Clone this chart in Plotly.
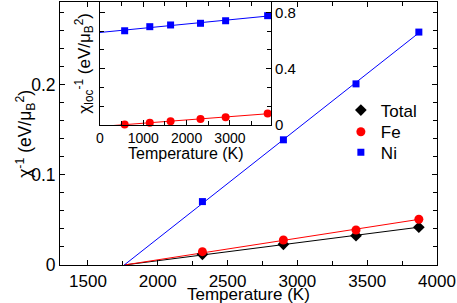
import numpy as np
import plotly.graph_objects as go

# ---- data (main panel) ----
T_main = [2320, 2900, 3420, 3870]
chi_total = [0.0119, 0.0230, 0.0326, 0.0419]
chi_fe = [0.0148, 0.0278, 0.0389, 0.0508]
chi_ni = [0.0704, 0.139, 0.2011, 0.2586]
Tc = 1760

# ---- data (inset) ----
T_loc = [570, 1150, 1630, 2320, 2900, 3870]
chi_loc_ni = [0.669, 0.698, 0.710, 0.722, 0.740, 0.776]
chi_loc_fe = [0.005, 0.016, 0.028, 0.043, 0.055, 0.083]

FONT = "Liberation Sans, Arial, sans-serif"
BLUE = "#0000ff"
RED = "#ff0000"
BLACK = "#000000"


def fit_through_tc(T, y, tc):
    t = np.array(T, float) - tc
    yy = np.array(y, float)
    s = (t * yy).sum() / (t * t).sum()
    xs = [tc, max(T)]
    return xs, [0.0, s * (max(T) - tc)]


def linfit(T, y, x0):
    p = np.polyfit(np.array(T, float), np.array(y, float), 1)
    xs = [x0, max(T)]
    return xs, [p[0] * x + p[1] for x in xs]


fig = go.Figure()

# main fit lines
for y, c in [(chi_total, BLACK), (chi_fe, RED), (chi_ni, BLUE)]:
    xs, ys = fit_through_tc(T_main, y, Tc)
    fig.add_trace(go.Scatter(x=xs, y=ys, mode="lines", line=dict(color=c, width=1),
                             showlegend=False, hoverinfo="skip"))

# main markers
fig.add_trace(go.Scatter(x=T_main, y=chi_total, mode="markers", name="Total", legend="legend",
                         marker=dict(symbol="diamond", size=9, color=BLACK), cliponaxis=False))
fig.add_trace(go.Scatter(x=T_main, y=chi_fe, mode="markers", name="Fe", legend="legend2",
                         marker=dict(symbol="circle", size=9, color=RED), cliponaxis=False))
fig.add_trace(go.Scatter(x=T_main, y=chi_ni, mode="markers", name="Ni", legend="legend3",
                         marker=dict(symbol="square", size=7, color=BLUE), cliponaxis=False))

# inset fit lines
for y, c in [(chi_loc_fe, RED), (chi_loc_ni, BLUE)]:
    xs, ys = linfit(T_loc, y, 0)
    fig.add_trace(go.Scatter(x=xs, y=ys, mode="lines", line=dict(color=c, width=1),
                             xaxis="x2", yaxis="y2", showlegend=False, hoverinfo="skip"))

fig.add_trace(go.Scatter(x=T_loc, y=chi_loc_fe, mode="markers", xaxis="x2", yaxis="y2",
                         marker=dict(symbol="circle", size=8, color=RED),
                         showlegend=False, cliponaxis=False))
fig.add_trace(go.Scatter(x=T_loc, y=chi_loc_ni, mode="markers", xaxis="x2", yaxis="y2",
                         marker=dict(symbol="square", size=7, color=BLUE),
                         showlegend=False, cliponaxis=False))

axis_common = dict(showline=True, linecolor=BLACK, linewidth=1, mirror="allticks",
                   ticks="inside", tickcolor=BLACK, ticklen=5, showgrid=False, zeroline=False)

leg_common = dict(x=0.745, xanchor="left", yanchor="top", bgcolor="rgba(0,0,0,0)",
                  font=dict(size=17), itemwidth=30, itemsizing="trace")

fig.update_layout(
    width=457, height=303,
    margin=dict(l=60, r=20, t=2, b=38),
    paper_bgcolor="white", plot_bgcolor="white",
    font=dict(family=FONT, color=BLACK, size=17),
    xaxis=dict(range=[1300, 4000], dtick=500, domain=[0, 1],
               tickfont=dict(size=17), ticklabelstandoff=1,
               minor=dict(dtick=250, ticks="inside", ticklen=4, tickcolor=BLACK),
               **axis_common),
    yaxis=dict(range=[0, 0.292], dtick=0.1, domain=[0, 1],
               tickfont=dict(size=17.5),
               minor=dict(dtick=0.02, ticks="inside", ticklen=4, tickcolor=BLACK),
               **axis_common),
    xaxis2=dict(range=[0, 3950], dtick=1000, domain=[0.106, 0.56], anchor="y2",
                tickfont=dict(size=14),
                minor=dict(dtick=500, ticks="inside", ticklen=4, tickcolor=BLACK),
                **axis_common),
    yaxis2=dict(range=[0, 0.873], dtick=0.4, domain=[0.532, 1.0], anchor="x2", side="right",
                tickfont=dict(size=15),
                minor=dict(dtick=0.4 / 3, ticks="inside", ticklen=4, tickcolor=BLACK),
                **axis_common),
    legend=dict(y=0.6559, **leg_common),
    legend2=dict(y=0.5734, **leg_common),
    legend3=dict(y=0.4951, **leg_common),
    showlegend=True,
)

fig.add_annotation(text="χ<sup>-1</sup> (eV/μ<sub>B</sub><sup>2</sup>)", textangle=-90,
                   xref="paper", yref="paper", x=-0.092, y=0.5,
                   xanchor="center", yanchor="middle", showarrow=False,
                   font=dict(size=17.5))
fig.add_annotation(text="Temperature (K)", xref="paper", yref="paper", x=0.5, y=-0.113,
                   xanchor="center", yanchor="middle", showarrow=False, font=dict(size=17))
fig.add_annotation(text="χ<sub>loc</sub><sup>-1</sup> (eV/μ<sub>B</sub><sup>2</sup>)", textangle=-90,
                   xref="paper", yref="paper", x=0.064, y=0.766,
                   xanchor="center", yanchor="middle", showarrow=False,
                   font=dict(size=17))
fig.add_annotation(text="Temperature (K)", xref="paper", yref="paper", x=0.333, y=0.425,
                   xanchor="center", yanchor="middle", showarrow=False, font=dict(size=16))

fig.write_html("out.html", config={"displayModeBar": False},
               post_script="document.body.style.margin='0';document.body.style.overflow='hidden';")
